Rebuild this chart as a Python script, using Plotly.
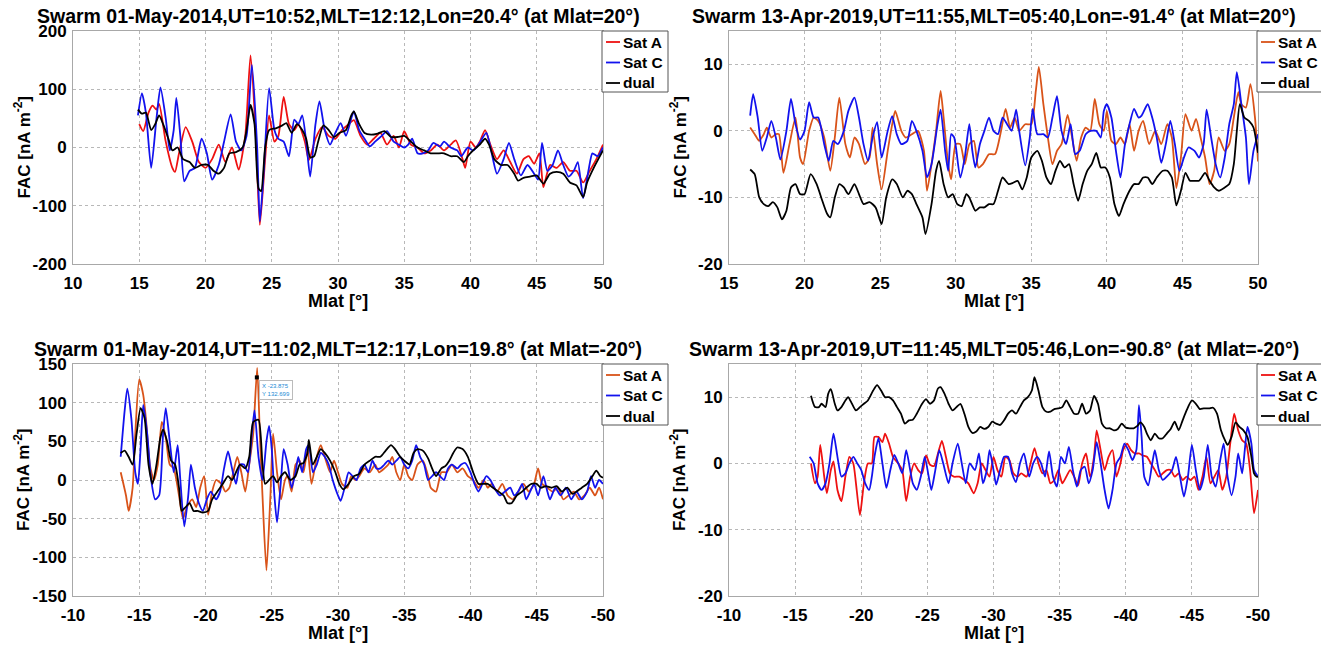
import plotly.graph_objects as go

# ---------------- DATA ----------------
# Panel 1: Swarm 01-May-2014 northern (Mlat 15..50)
p1_sat_a = [(15.0,40),(15.3,28),(15.7,60),(16.0,72),(16.3,65),(16.5,75),(17.0,10),(17.5,-35),(17.7,-42),(18.0,-10),
            (18.5,35),(19.0,10),(19.5,-25),(20.0,-35),(20.5,-20),(21.0,5),(21.5,-25),(22.0,0),(22.5,-38),(23.0,20),
            (23.4,158),(23.8,20),(24.1,-133),(24.5,-20),(24.8,55),(25.2,10),(25.5,20),(25.9,87),(26.3,40),(26.7,30),
            (27.0,40),(27.5,10),(27.8,-22),(28.3,15),(28.8,35),(29.3,20),(29.8,15),(30.3,30),(30.8,40),(31.2,47),
            (31.7,20),(32.2,5),(32.7,15),(33.2,25),(33.7,5),(34.2,20),(34.6,0),(35.0,28),(35.5,5),(36.0,0),
            (36.5,-10),(37.0,-5),(37.5,5),(38.0,-5),(38.5,5),(38.9,12),(39.4,-20),(39.6,-35),(40.0,10),(40.4,0),
            (40.7,10),(41.1,30),(41.5,5),(42.0,-20),(42.5,-5),(43.0,-25),(43.5,-45),(44.0,-20),(44.4,-15),(44.8,-28),
            (45.2,-10),(45.5,-68),(46.0,-30),(46.5,-35),(47.0,-25),(47.5,-40),(48.0,-40),(48.5,-60),(49.0,-40),(49.5,-20),(50.0,5)]
p1_sat_c = [(14.9,55),(15.2,93),(15.5,60),(15.9,-35),(16.3,50),(16.6,103),(17.0,50),(17.3,-5),(17.6,30),(17.8,85),
            (18.1,20),(18.4,-58),(18.8,-40),(19.2,-35),(19.7,15),(20.1,-10),(20.5,-55),(21.0,-30),(21.4,10),(21.9,57),
            (22.3,10),(22.7,-5),(23.1,20),(23.5,142),(23.9,0),(24.1,-127),(24.4,-40),(24.8,102),(25.2,30),(25.5,15),
            (25.9,10),(26.3,-15),(26.7,48),(27.0,40),(27.3,55),(27.6,10),(27.9,-50),(28.3,40),(28.6,79),(29.0,30),
            (29.4,5),(29.8,25),(30.2,42),(30.6,20),(31.0,50),(31.2,62),(31.6,30),(32.0,15),(32.4,2),(32.8,10),
            (33.3,20),(33.7,28),(34.2,10),(34.6,5),(35.0,0),(35.3,5),(35.6,15),(36.0,-10),(36.4,-10),(36.8,-5),
            (37.2,8),(37.7,2),(38.0,10),(38.5,0),(39.0,-5),(39.3,-15),(39.8,0),(40.2,-5),(40.6,5),(41.2,25),
            (41.6,-10),(42.0,-45),(42.5,-20),(42.9,8),(43.3,-20),(43.8,-48),(44.3,-30),(44.8,-45),(45.1,-55),(45.4,8),
            (45.8,-40),(46.2,-30),(46.6,-5),(47.0,-30),(47.4,-50),(47.8,-40),(48.1,-25),(48.5,-87),(48.9,-40),(49.2,-10),
            (49.6,-15),(50.0,0)]
p1_dual = [(14.9,65),(15.2,58),(15.5,60),(15.9,30),(16.2,40),(16.5,55),(16.8,40),(17.2,15),(17.5,-5),(17.9,0),
           (18.3,-20),(18.8,-25),(19.2,-35),(19.7,-30),(20.2,-30),(20.6,-40),(21.0,-45),(21.4,-35),(21.8,-10),(22.3,-8),
           (22.8,0),(23.1,30),(23.4,73),(23.7,40),(24.0,-70),(24.2,-75),(24.5,0),(24.8,30),(25.3,33),(25.8,38),
           (26.1,42),(26.5,25),(26.9,40),(27.3,30),(27.6,15),(27.9,-17),(28.2,-15),(28.5,10),(28.9,38),(29.3,30),
           (29.7,18),(30.1,25),(30.6,30),(31.0,55),(31.2,62),(31.6,40),(32.0,25),(32.5,22),(33.0,24),(33.5,28),
           (34.0,18),(34.5,18),(35.0,20),(35.5,10),(36.0,0),(36.5,-5),(37.0,-10),(37.5,-10),(38.0,-10),(38.5,-15),
           (39.0,-15),(39.5,-25),(39.8,-15),(40.2,-5),(40.7,5),(41.1,15),(41.4,5),(41.8,-20),(42.3,-30),(42.8,-30),
           (43.3,-45),(43.6,-57),(44.0,-52),(44.5,-50),(45.0,-48),(45.5,-62),(46.0,-45),(46.5,-42),(47.0,-45),(47.5,-60),
           (48.0,-65),(48.5,-85),(48.8,-60),(49.3,-35),(50.0,-5)]

# Panel 2: Swarm 13-Apr-2019 northern
p2_sat_a = [(16.4,0.5),(16.7,-0.5),(17.0,-1.5),(17.3,-0.5),(17.5,0.5),(17.8,-1),(18.1,-0.5),(18.3,-0.5),(18.6,-6.3),(19.0,-2),
            (19.4,2),(19.7,-4),(19.9,-5),(20.3,0),(20.6,2),(20.9,1.5),(21.3,-1),(21.7,-6),(22.0,-1),(22.3,5),
            (22.7,-2),(23.0,-4),(23.3,-1),(23.6,-2),(24.0,-5),(24.3,-4),(24.5,0.5),(24.8,-5),(25.1,-8.8),(25.5,-3),
            (25.8,1),(26.0,3),(26.4,0),(26.7,-1),(27.1,-0.5),(27.5,0),(27.9,-3),(28.1,-9),(28.4,-5),(28.7,0),
            (29.0,6),(29.2,2),(29.5,-5),(29.7,-7.3),(30.0,-2),(30.3,-2),(30.6,-5),(30.9,-2),(31.2,-1.5),(31.5,-5.5),
            (31.8,-5),(32.2,-3.5),(32.6,-3.5),(33.0,0),(33.3,3.3),(33.6,0.5),(33.9,2),(34.2,0),(34.6,1),(35.0,1),
            (35.3,6),(35.5,9.6),(35.8,4),(36.1,-1),(36.4,-5),(36.7,-3),(37.0,-2),(37.4,2.4),(37.7,-1),(38.0,-4.5),
            (38.3,-1),(38.6,0.5),(38.9,0),(39.2,4.8),(39.5,1),(39.8,0),(40.0,3),(40.3,-1.5),(40.6,-2),(40.9,-1),
            (41.2,-2),(41.5,1),(41.8,-3),(42.1,0),(42.4,1.5),(42.8,-2),(43.2,0),(43.6,-2),(44.0,1),(44.3,-1),
            (44.6,-8.6),(44.9,-4),(45.2,2.5),(45.6,0),(45.9,1.8),(46.2,-1),(46.5,-4),(46.8,-8),(47.1,-6),(47.4,-1),
            (47.8,-3),(48.1,-2),(48.4,2),(48.7,5.8),(48.9,4),(49.2,3.5),(49.5,7),(49.8,2),(50.0,-4.6)]
p2_sat_c = [(16.4,2.3),(16.6,5.5),(16.9,2),(17.2,-3),(17.5,-1),(17.8,1.5),(18.1,-1),(18.4,-4.3),(18.8,0),(19.1,4.8),
            (19.4,1),(19.7,-1.3),(20.0,0),(20.3,4.3),(20.6,2),(20.9,2),(21.3,-2),(21.6,-4.5),(21.9,-1.5),(22.2,-2),
            (22.6,0),(22.9,3),(23.3,5),(23.6,2),(23.9,-2),(24.2,-4.5),(24.5,-1),(24.8,1.3),(25.1,-4),(25.5,0),
            (25.8,2.2),(26.1,-0.5),(26.4,-2),(26.8,-1.5),(27.1,1.5),(27.4,0),(27.8,-3),(28.1,-7),(28.4,-5),(28.8,1),
            (29.0,3.2),(29.3,-3),(29.5,-6),(29.7,-0.5),(29.9,-1),(30.3,-7),(30.6,-4),(30.9,1),(31.1,-3),(31.3,-5.5),
            (31.6,-2),(31.9,0),(32.2,2),(32.5,0),(32.8,-0.5),(33.1,2),(33.4,1),(33.7,0),(34.0,3.2),(34.2,0),
            (34.6,-5.2),(34.9,-1),(35.1,3.3),(35.4,-0.5),(35.8,-0.5),(36.1,-1),(36.4,2),(36.7,5.2),(37.0,0),(37.3,-2),
            (37.6,1),(37.9,-3.5),(38.2,-3),(38.6,-0.5),(38.9,0),(39.3,0),(39.6,-1),(39.8,3),(40.0,4),(40.3,2),
            (40.6,-3),(40.9,-7),(41.2,-2),(41.5,1),(41.8,3.3),(42.1,2),(42.3,2.3),(42.7,4),(43.0,2),(43.3,-1),
            (43.6,-4.8),(43.9,-2),(44.2,1.5),(44.5,-2),(44.8,-6),(45.1,-4),(45.4,-2.5),(45.8,-3),(46.1,-4),(46.4,-2),
            (46.6,3.2),(46.9,-1),(47.2,-5),(47.5,-7),(47.8,-4),(48.1,1),(48.4,4),(48.6,8.8),(48.9,4),(49.2,-1),
            (49.4,-8),(49.7,-3),(50.0,-0.5)]
p2_dual = [(16.4,-5.8),(16.7,-6.5),(17.0,-10),(17.3,-11),(17.6,-11.3),(17.9,-10.7),(18.2,-11.5),(18.5,-13.3),(18.8,-12),(19.1,-8.5),
           (19.4,-8),(19.7,-9.5),(20.0,-9.5),(20.4,-6.5),(20.8,-8),(21.1,-10),(21.5,-12.5),(21.7,-13),(22.0,-10),(22.3,-8),
           (22.6,-8.5),(22.9,-9.5),(23.3,-8),(23.6,-9.5),(23.9,-11),(24.3,-10.7),(24.7,-11.5),(25.1,-14),(25.4,-10),(25.8,-7.3),
           (26.1,-8),(26.5,-10),(26.8,-9),(27.1,-9.5),(27.4,-11),(27.8,-13),(28.0,-15.5),(28.4,-11),(28.7,-6),(28.9,-4.5),
           (29.2,-8),(29.5,-10),(29.8,-9.5),(30.1,-11),(30.4,-11.3),(30.7,-9.5),(30.9,-10),(31.3,-12),(31.6,-11.5),(31.9,-11.5),
           (32.2,-11),(32.5,-11),(32.8,-9),(33.1,-7),(33.5,-8),(33.8,-7.8),(34.1,-7.5),(34.4,-8.8),(34.7,-7),(35.0,-4),
           (35.4,-3),(35.7,-4.5),(36.0,-7),(36.3,-8),(36.6,-6),(36.9,-4.5),(37.2,-5.5),(37.5,-5),(37.8,-8),(38.1,-10.5),
           (38.4,-8),(38.7,-6),(39.0,-5),(39.3,-3.3),(39.6,-5.5),(39.9,-5.5),(40.2,-7),(40.5,-11),(40.8,-12.8),(41.1,-11),
           (41.5,-9),(41.8,-8),(42.1,-8),(42.4,-7),(42.7,-7),(43.0,-8),(43.3,-7),(43.7,-6),(44.0,-6),(44.3,-7),
           (44.6,-11.2),(44.9,-9),(45.2,-6.3),(45.5,-7.5),(45.8,-7.5),(46.1,-7.5),(46.5,-6.3),(46.8,-7.5),(47.1,-8.5),(47.4,-9),
           (47.8,-8.5),(48.1,-8),(48.4,-5),(48.6,0),(48.8,4),(49.1,2),(49.4,1.5),(49.7,0.5),(50.0,-3.3)]

# Panel 3: Swarm 01-May-2014 southern (Mlat -13.6..-50)
p3_sat_a = [(-13.6,10),(-14.0,-20),(-14.2,-40),(-14.5,-10),(-14.7,60),(-15.0,130),(-15.3,110),(-15.5,80),(-15.8,20),(-16.1,0),
            (-16.4,20),(-16.7,75),(-17.0,55),(-17.3,20),(-17.6,15),(-18.0,-20),(-18.3,-50),(-18.6,-35),(-19.0,-25),(-19.3,-35),
            (-19.6,-10),(-19.9,5),(-20.2,-45),(-20.5,-15),(-20.8,0),(-21.2,-5),(-21.5,-15),(-21.8,-10),(-22.1,10),(-22.4,30),
            (-22.7,10),(-23.0,-15),(-23.3,20),(-23.6,60),(-23.9,145),(-24.1,60),(-24.3,-20),(-24.6,-117),(-24.9,-20),(-25.1,60),
            (-25.4,10),(-25.7,-25),(-26.0,0),(-26.2,5),(-26.5,-15),(-26.8,20),(-27.1,25),(-27.4,10),(-27.7,40),(-28.0,-5),
            (-28.4,30),(-28.7,45),(-29.0,30),(-29.4,10),(-29.7,25),(-30.0,10),(-30.3,-5),(-30.7,-10),(-31.0,5),(-31.3,0),
            (-31.6,5),(-32.0,15),(-32.4,10),(-32.8,20),(-33.1,10),(-33.5,15),(-33.8,20),(-34.1,30),(-34.4,10),(-34.7,0),
            (-35.0,20),(-35.3,5),(-35.6,0),(-36.0,20),(-36.4,25),(-36.8,5),(-37.0,-10),(-37.4,-15),(-37.8,10),(-38.2,10),
            (-38.6,20),(-39.0,10),(-39.4,15),(-39.8,5),(-40.2,0),(-40.6,-10),(-41.0,0),(-41.3,-10),(-41.6,-5),(-42.0,-15),
            (-42.4,-5),(-42.8,-20),(-43.2,-25),(-43.6,-15),(-44.0,-5),(-44.4,-15),(-44.8,-5),(-45.1,15),(-45.4,-5),(-45.8,-10),
            (-46.2,-15),(-46.6,-10),(-47.0,-25),(-47.4,-20),(-47.8,-15),(-48.2,-25),(-48.6,-20),(-49.0,-10),(-49.4,-20),(-49.7,-10),(-50.0,-25)]
p3_sat_c = [(-13.6,30),(-13.9,90),(-14.1,118),(-14.4,80),(-14.7,10),(-14.9,-5),(-15.1,40),(-15.3,97),(-15.6,60),(-15.9,0),
            (-16.2,-25),(-16.5,-20),(-16.8,60),(-17.0,93),(-17.3,50),(-17.6,10),(-17.9,45),(-18.1,0),(-18.4,-60),(-18.7,-20),
            (-18.9,20),(-19.2,-10),(-19.5,-30),(-19.8,-40),(-20.1,-25),(-20.4,-15),(-20.8,-25),(-21.1,-15),(-21.4,15),(-21.7,37),
            (-22.0,15),(-22.3,-5),(-22.6,20),(-22.9,20),(-23.2,10),(-23.5,60),(-23.7,90),(-24.0,30),(-24.3,0),(-24.6,50),
            (-24.8,70),(-25.0,40),(-25.2,-20),(-25.4,-55),(-25.7,0),(-25.9,40),(-26.2,20),(-26.5,-10),(-26.8,10),(-27.0,30),
            (-27.3,10),(-27.6,40),(-27.8,45),(-28.1,10),(-28.4,20),(-28.7,35),(-29.0,30),(-29.3,20),(-29.6,0),(-30.0,-20),
            (-30.2,-27),(-30.5,-10),(-30.8,10),(-31.1,5),(-31.4,0),(-31.7,15),(-32.0,20),(-32.3,10),(-32.6,25),(-32.9,15),
            (-33.2,15),(-33.5,20),(-33.8,25),(-34.1,20),(-34.4,25),(-34.7,30),(-35.0,20),(-35.3,15),(-35.6,25),(-35.9,45),
            (-36.2,30),(-36.5,20),(-36.8,0),(-37.1,5),(-37.4,10),(-37.7,5),(-38.0,0),(-38.3,15),(-38.6,20),(-39.0,15),
            (-39.3,20),(-39.6,22),(-40.0,10),(-40.3,-5),(-40.6,-15),(-40.9,-5),(-41.2,5),(-41.5,0),(-41.8,-10),(-42.2,-20),
            (-42.6,-15),(-43.0,-10),(-43.3,-20),(-43.6,-15),(-43.9,-5),(-44.2,-25),(-44.5,-15),(-44.8,-5),(-45.1,-20),(-45.5,5),
            (-45.8,-15),(-46.0,-25),(-46.4,-10),(-46.8,-20),(-47.2,-10),(-47.6,-25),(-48.0,-15),(-48.4,-25),(-48.8,-15),(-49.1,5),
            (-49.4,-10),(-49.7,0),(-50.0,-5)]
p3_dual = [(-13.6,35),(-13.9,38),(-14.2,30),(-14.5,20),(-14.8,60),(-15.1,93),(-15.4,80),(-15.7,20),(-16.0,-5),(-16.3,20),
           (-16.6,55),(-16.8,65),(-17.1,50),(-17.4,25),(-17.7,20),(-18.0,-10),(-18.2,-40),(-18.5,-35),(-18.8,-30),(-19.1,-40),
           (-19.4,-40),(-19.8,-42),(-20.2,-40),(-20.5,-25),(-20.9,-15),(-21.3,-5),(-21.7,5),(-22.0,0),(-22.3,10),(-22.6,20),
           (-23.0,15),(-23.3,30),(-23.6,75),(-24.0,78),(-24.3,20),(-24.5,-5),(-24.8,0),(-25.1,5),(-25.4,-3),(-25.7,5),
           (-26.0,10),(-26.4,0),(-26.8,5),(-27.1,20),(-27.4,22),(-27.7,35),(-27.8,52),(-28.1,20),(-28.4,30),(-28.7,40),
           (-29.0,35),(-29.4,25),(-29.8,10),(-30.1,-5),(-30.4,-12),(-30.8,-5),(-31.2,5),(-31.6,8),(-32.0,20),(-32.4,25),
           (-32.8,30),(-33.2,30),(-33.6,38),(-34.0,45),(-34.3,40),(-34.7,30),(-35.0,25),(-35.4,20),(-35.7,35),(-36.0,40),
           (-36.4,38),(-36.8,28),(-37.1,15),(-37.4,5),(-37.8,15),(-38.1,18),(-38.4,25),(-38.7,35),(-39.0,42),(-39.4,40),
           (-39.8,30),(-40.2,10),(-40.6,-5),(-41.0,-5),(-41.3,-5),(-41.7,-10),(-42.1,-15),(-42.5,-20),(-42.8,-30),(-43.1,-30),
           (-43.5,-20),(-43.9,-15),(-44.2,-10),(-44.6,-5),(-45.0,-5),(-45.3,-10),(-45.7,-8),(-46.1,-10),(-46.5,-8),(-46.9,-15),
           (-47.3,-10),(-47.7,-18),(-48.0,-15),(-48.4,-10),(-48.8,-5),(-49.2,5),(-49.5,12),(-49.8,5),(-50.0,3)]

# Panel 4: Swarm 13-Apr-2019 southern
p4_sat_a = [(-16.2,0),(-16.5,-3),(-16.7,-2),(-16.9,2.8),(-17.2,-2),(-17.4,-4.5),(-17.7,-1),(-17.9,0.3),(-18.2,-4),(-18.5,-5.7),
            (-18.8,-2),(-19.1,1),(-19.4,0),(-19.6,-3),(-19.9,-7.8),(-20.2,-3),(-20.5,0),(-20.8,0),(-21.0,4),(-21.3,4),
            (-21.6,3.2),(-21.8,4.5),(-22.1,3),(-22.4,1),(-22.8,0),(-23.1,-1),(-23.4,-5.7),(-23.7,-2),(-24.0,0),(-24.3,-1),
            (-24.6,-1.5),(-24.9,1.2),(-25.2,-0.2),(-25.5,-0.4),(-25.8,1.5),(-26.1,3.4),(-26.4,1),(-26.7,-1.5),(-27.0,-2),(-27.4,-2),
            (-27.8,-2.5),(-28.1,-3),(-28.5,-4.5),(-28.8,-3),(-29.1,0),(-29.4,-1),(-29.7,-2),(-30.0,1),(-30.3,-1),(-30.6,-2),
            (-30.9,1),(-31.2,0.5),(-31.5,-1.5),(-31.8,-2),(-32.1,-1.5),(-32.5,-2),(-32.8,0),(-33.1,2.3),(-33.4,0),(-33.7,-1.5),
            (-34.0,-1),(-34.3,-3),(-34.6,-2.5),(-34.9,-1),(-35.2,-3),(-35.5,-2),(-35.8,-1),(-36.1,-2),(-36.4,-3.3),(-36.7,0),
            (-37.0,1.5),(-37.3,-2),(-37.6,1),(-37.8,5),(-38.1,2),(-38.4,-1),(-38.7,1),(-39.0,2),(-39.3,-2),(-39.6,0),
            (-39.8,2),(-40.1,3),(-40.4,2),(-40.7,1.5),(-41.0,1.5),(-41.3,1.2),(-41.6,1),(-41.9,0),(-42.2,-1),(-42.5,-2),
            (-42.8,-1.5),(-43.1,-1),(-43.4,-1),(-43.7,-2),(-44.0,-1.5),(-44.3,-2.5),(-44.6,-2),(-44.9,-2.5),(-45.2,-2),(-45.5,-4),
            (-45.8,-2),(-46.1,1),(-46.4,-3),(-46.7,-2),(-47.0,-1),(-47.3,-4),(-47.6,-2),(-47.9,3),(-48.2,7.5),(-48.5,5),
            (-48.8,3.5),(-49.1,3),(-49.4,-1),(-49.7,-7.5),(-50.0,-4)]
p4_sat_c = [(-16.1,1),(-16.4,0),(-16.7,-3),(-17.0,-4),(-17.3,-3),(-17.6,0),(-17.9,4.5),(-18.2,1),(-18.5,-2),(-18.8,-1.5),
            (-19.1,0),(-19.4,1),(-19.7,0),(-20.0,-1),(-20.3,-3),(-20.6,-4),(-20.8,-2),(-21.0,1),(-21.3,3.8),(-21.6,0),
            (-21.9,-3.7),(-22.2,-1),(-22.5,1.3),(-22.8,0),(-23.1,-1.5),(-23.4,2),(-23.7,-1),(-23.9,-3),(-24.2,-4),(-24.5,-2),
            (-24.8,1),(-25.1,-2),(-25.3,-4),(-25.6,-1),(-25.9,2),(-26.2,0),(-26.6,-3),(-26.9,0),(-27.3,3),(-27.6,0),
            (-27.9,-3),(-28.2,0),(-28.6,-1),(-28.9,1.5),(-29.2,-3),(-29.5,-1),(-29.7,2),(-30.0,-1),(-30.2,-3.2),(-30.5,-1),
            (-30.8,1),(-31.1,1),(-31.4,-1.5),(-31.7,-2.8),(-32.0,0),(-32.3,1.5),(-32.7,-2),(-33.0,0),(-33.3,1),(-33.6,0),
            (-33.9,-2),(-34.2,1.8),(-34.5,-2),(-34.8,-3.5),(-35.1,1),(-35.4,0),(-35.7,2.5),(-36.0,-1),(-36.3,-3.5),(-36.6,-1),
            (-36.9,-0.5),(-37.2,-3),(-37.5,-1),(-37.8,3.2),(-38.1,0),(-38.4,-4),(-38.7,-6.8),(-39.0,-4),(-39.3,0),(-39.6,1),
            (-39.9,3),(-40.2,2),(-40.5,0.5),(-40.8,2),(-41.0,8.8),(-41.2,4),(-41.4,-2),(-41.7,-3.3),(-42.0,0),(-42.2,2),
            (-42.5,-1),(-42.8,-2.5),(-43.1,-2),(-43.5,-1),(-43.8,1),(-44.1,-2),(-44.4,-5),(-44.7,-2),(-45.0,2.8),(-45.3,-1),
            (-45.6,-4),(-45.9,-2),(-46.2,2.8),(-46.5,-2),(-46.8,-3.5),(-47.1,0),(-47.4,3),(-47.7,-2),(-48.0,-4.8),(-48.3,-2),
            (-48.5,1.5),(-48.8,-1.5),(-49.0,2),(-49.2,5.5),(-49.5,3),(-49.7,-1),(-50.0,-2)]
p4_dual = [(-16.2,10.2),(-16.5,8.5),(-16.8,8.5),(-17.0,9),(-17.3,8.5),(-17.5,10.5),(-17.7,11.2),(-18.0,9),(-18.2,8),(-18.5,8.5),
           (-18.8,9.5),(-19.0,10),(-19.3,9),(-19.6,8),(-19.9,8.5),(-20.2,9),(-20.5,9.5),(-20.9,11),(-21.2,11.8),(-21.5,11),
           (-21.8,10),(-22.1,10),(-22.4,9.5),(-22.7,8.5),(-23.0,7.5),(-23.3,6),(-23.6,6.5),(-23.9,6.6),(-24.2,7.5),(-24.6,9),
           (-24.9,9.7),(-25.2,9),(-25.5,9.5),(-25.8,11.3),(-26.0,11.5),(-26.3,10.5),(-26.6,9),(-26.9,8),(-27.2,8.5),(-27.5,9),
           (-27.8,7.5),(-28.1,5.5),(-28.4,4.6),(-28.7,4.8),(-29.0,5.5),(-29.3,5.2),(-29.6,5.5),(-29.9,6.3),(-30.2,6),(-30.5,5.8),
           (-30.8,6.5),(-31.1,7.5),(-31.4,8),(-31.7,7.5),(-32.0,8.5),(-32.3,9.5),(-32.6,10),(-32.9,11),(-33.1,13),(-33.4,11),
           (-33.7,8.5),(-34.0,7.8),(-34.3,7.8),(-34.6,8.2),(-34.9,8.3),(-35.2,8.5),(-35.5,9.5),(-35.8,8.5),(-36.1,7.5),(-36.4,7.5),
           (-36.7,9),(-37.0,7.5),(-37.3,8),(-37.6,10.2),(-37.9,9),(-38.2,6),(-38.5,5.3),(-38.8,5.3),(-39.1,5),(-39.4,5.2),
           (-39.7,6),(-40.0,5.4),(-40.3,5.3),(-40.6,5.3),(-40.9,5.7),(-41.1,6.2),(-41.4,5.5),(-41.6,4.5),(-41.9,3.5),(-42.2,4.5),
           (-42.5,3.8),(-42.8,3.8),(-43.1,4.5),(-43.4,5.2),(-43.7,6.3),(-44.0,5),(-44.3,6.5),(-44.6,8),(-45.0,9.5),(-45.3,9),
           (-45.6,8.2),(-45.9,8.3),(-46.3,8.3),(-46.6,8.4),(-46.9,7.5),(-47.2,5),(-47.5,3.5),(-47.7,2.8),(-48.0,4),(-48.3,6.2),
           (-48.6,5.5),(-48.9,5),(-49.2,4),(-49.5,1),(-49.7,-1.5),(-49.9,-2),(-50.0,-2)]

# Data-tip shown in panel 3
tip_x = [-23.875]
tip_y = [132.699]

titles = [
    "Swarm 01-May-2014,UT=10:52,MLT=12:12,Lon=20.4° (at Mlat=20°)",
    "Swarm 13-Apr-2019,UT=11:55,MLT=05:40,Lon=-91.4° (at Mlat=20°)",
    "Swarm 01-May-2014,UT=11:02,MLT=12:17,Lon=19.8° (at Mlat=-20°)",
    "Swarm 13-Apr-2019,UT=11:45,MLT=05:46,Lon=-90.8° (at Mlat=-20°)",
]
series_names = ["Sat A", "Sat C", "dual"]
x_ranges = [[10, 50], [15, 50], [-10, -50], [-10, -50]]
x_ticks = [list(range(10, 55, 5)), list(range(15, 55, 5)), list(range(-10, -55, -5)), list(range(-10, -55, -5))]
y_ranges = [[-200, 200], [-20, 15], [-150, 150], [-20, 15]]
y_ticks = [[-200, -100, 0, 100, 200], [-20, -10, 0, 10], [-150, -100, -50, 0, 50, 100, 150], [-20, -10, 0, 10]]

# ---------------- STYLE ----------------
OFF = 8                      # page body margin of the html page
W, H = 1329 - OFF, 650 - OFF # figure size so that the page fits the window
RED = "#ee1111"
ORANGE = "#d95319"
BLUE = "#1212ee"
BLACK = "#000000"
sat_a_colors = [RED, ORANGE, ORANGE, RED]
FONT = "Liberation Sans"


def px(xp):
    return (xp - OFF) / W


def py(yp):
    return 1 - (yp - OFF) / H


# plot boxes in window pixels: (left, right, top, bottom)
boxes = [(73, 603, 31, 264), (729, 1258, 31, 264), (73, 603, 364, 596), (729, 1258, 364, 596)]

panels = [(p1_sat_a, p1_sat_c, p1_dual), (p2_sat_a, p2_sat_c, p2_dual),
          (p3_sat_a, p3_sat_c, p3_dual), (p4_sat_a, p4_sat_c, p4_dual)]

fig = go.Figure()
layout = dict(width=W, height=H, margin=dict(l=0, r=0, t=0, b=0, autoexpand=False),
              paper_bgcolor="white", plot_bgcolor="white", showlegend=False,
              font=dict(family=FONT, size=16, color="black"))
annotations = []
shapes = []

for i, (series, box) in enumerate(zip(panels, boxes)):
    k = "" if i == 0 else str(i + 1)
    xa, ya = "x" + k, "y" + k
    l, r, t, b = box
    colors = [sat_a_colors[i], BLUE, BLACK]
    for s, name, col in zip(series, series_names, colors):
        xs = [p[0] for p in s]
        ys = [p[1] for p in s]
        fig.add_trace(go.Scatter(x=xs, y=ys, mode="lines", name=name, xaxis=xa, yaxis=ya,
                                 line=dict(color=col, width=1.8, shape="spline", smoothing=0.6),
                                 hoverinfo="skip"))
    axcommon = dict(showline=True, mirror=True, linecolor="#a8a8a8", linewidth=1, automargin=False,
                    showgrid=True, gridcolor="#b8b8b8", griddash="dot", gridwidth=1,
                    zeroline=False, ticks="", tickfont=dict(family=FONT, size=17, color="black", weight="bold"))
    layout["xaxis" + k] = dict(axcommon, domain=[px(l), px(r)], range=x_ranges[i], tickvals=x_ticks[i],
                               ticktext=[str(v) for v in x_ticks[i]], anchor=ya, ticklabelstandoff=4)
    layout["yaxis" + k] = dict(axcommon, domain=[py(b), py(t)], range=y_ranges[i], tickvals=y_ticks[i],
                               ticktext=[str(v) for v in y_ticks[i]], anchor=xa, ticklabelstandoff=2)
    cx = (l + r) / 2
    # panel title
    annotations.append(dict(text="<b>" + titles[i] + "</b>", xref="paper", yref="paper",
                            x=px(cx), y=py(t - 15), xanchor="center", yanchor="middle",
                            showarrow=False, font=dict(family=FONT, size=19.5, color="black")))
    # axis titles
    annotations.append(dict(text="<b>Mlat [°]</b>", xref="paper", yref="paper",
                            x=px(cx), y=py(b + 37), xanchor="center", yanchor="middle",
                            showarrow=False, font=dict(family=FONT, size=18, color="black")))
    annotations.append(dict(text="<b>FAC [nA m<sup>-2</sup>]</b>", xref="paper", yref="paper",
                            x=px(l - 51), y=py((t + b) / 2), xanchor="center", yanchor="middle",
                            textangle=-90, showarrow=False, font=dict(family=FONT, size=17, color="black")))
    # legend box (drawn at the right edge of the plot, top)
    lx0, lx1 = r - 1, r + 65
    ly0, ly1 = t, t + 61
    shapes.append(dict(type="rect", xref="paper", yref="paper", x0=px(lx0), x1=px(lx1),
                       y0=py(ly1), y1=py(ly0), line=dict(color="#555555", width=1),
                       fillcolor="white", layer="above"))
    for j, (name, col) in enumerate(zip(series_names, colors)):
        yy = t + 11 + j * 20.5
        shapes.append(dict(type="line", xref="paper", yref="paper", x0=px(lx0 + 4), x1=px(lx0 + 18),
                           y0=py(yy), y1=py(yy), line=dict(color=col, width=1.8), layer="above"))
        annotations.append(dict(text="<b>" + name + "</b>", xref="paper", yref="paper",
                                x=px(lx0 + 19), y=py(yy), xanchor="left", yanchor="middle",
                                showarrow=False, font=dict(family=FONT, size=15.5, color="black")))

# data tip in panel 3
fig.add_trace(go.Scatter(x=tip_x, y=tip_y, mode="markers", xaxis="x3", yaxis="y3",
                         marker=dict(color="black", size=4, symbol="square"), hoverinfo="skip"))
annotations.append(dict(text="X -23.875<br>Y 132.699", x=tip_x[0], y=tip_y[0], xref="x3", yref="y3",
                        xanchor="left", yanchor="top", xshift=2, yshift=-3, showarrow=False, align="left",
                        font=dict(family=FONT, size=6, color="#1a8ad4"), bgcolor="white",
                        bordercolor="#bbbbbb", borderwidth=1, borderpad=2))

layout["annotations"] = annotations
layout["shapes"] = shapes
fig.update_layout(**layout)
fig.write_html("out.html")
